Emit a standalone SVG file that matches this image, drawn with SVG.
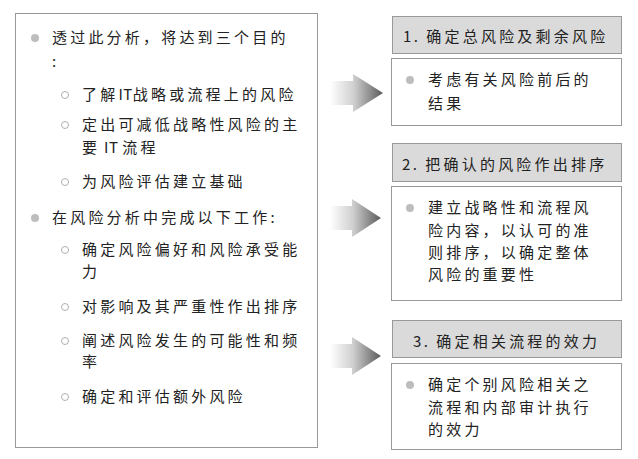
<svg xmlns="http://www.w3.org/2000/svg" width="638" height="459" viewBox="0 0 638 459">
<defs>
<linearGradient id="ag" x1="0" y1="0" x2="1" y2="0">
<stop offset="0" stop-color="#ffffff"/>
<stop offset="0.45" stop-color="#cfcfcf"/>
<stop offset="1" stop-color="#5a5a5a"/>
</linearGradient>
<style>
text{font-family:"Noto Sans CJK SC","Noto Sans",sans-serif;font-size:15px;fill:#222;letter-spacing:3.2px}
.lat{letter-spacing:0.5px}
.hl{letter-spacing:2.5px}
.box{fill:#fff;stroke:#999;stroke-width:1}
.hdr{fill:#dadada;stroke:#999;stroke-width:1}
.b1{fill:#bdbdbd}
.b2{fill:none;stroke:#b0b0b0;stroke-width:1}
.arr{fill:url(#ag)}
</style>
</defs>
<rect width="638" height="459" fill="#fff"/>
<g id="left">
<rect class="box" x="15.5" y="13.5" width="302" height="434"/>
<circle class="b1" cx="35" cy="38" r="4"/>
<text x="52" y="43">透过此分析，将达到三个目的</text>
<text x="52" y="67">:</text>
<circle class="b2" cx="65" cy="95" r="3.5"/>
<text x="82" y="100">了解<tspan class="lat">IT</tspan>战略或流程上的风险</text>
<circle class="b2" cx="65" cy="125" r="3.5"/>
<text x="82" y="130">定出可减低战略性风险的主</text>
<text x="82" y="153">要<tspan class="lat"> IT </tspan>流程</text>
<circle class="b2" cx="65" cy="182" r="3.5"/>
<text x="82" y="187">为风险评估建立基础</text>
<circle class="b1" cx="35" cy="218" r="4"/>
<text x="52" y="223">在风险分析中完成以下工作:</text>
<circle class="b2" cx="65" cy="250" r="3.5"/>
<text x="82" y="255">确定风险偏好和风险承受能</text>
<text x="82" y="277">力</text>
<circle class="b2" cx="65" cy="307" r="3.5"/>
<text x="82" y="312">对影响及其严重性作出排序</text>
<circle class="b2" cx="65" cy="341" r="3.5"/>
<text x="82" y="346">阐述风险发生的可能性和频</text>
<text x="82" y="367">率</text>
<circle class="b2" cx="65" cy="397" r="3.5"/>
<text x="82" y="402">确定和评估额外风险</text>
</g>
<g id="connectors">
<path class="arr" d="M330,81 H353 V74 L383,93 L353,112 V105 H330 Z"/>
<path class="arr" d="M330,206 H352 V199 L381,218 L352,237 V230 H330 Z"/>
<path class="arr" d="M330,344 H352 V337 L381,356 L352,375 V368 H330 Z"/>
</g>
<g id="step1">
<rect class="hdr" x="392.5" y="16.5" width="229" height="37"/>
<text x="403" y="42"><tspan class="hl">1. </tspan>确定总风险及剩余风险</text>
<rect class="box" x="391.5" y="58.5" width="230" height="67"/>
<circle class="b1" cx="410" cy="80" r="4"/>
<text x="428" y="85">考虑有关风险前后的</text>
<text x="428" y="109">结果</text>
</g>
<g id="step2">
<rect class="hdr" x="392.5" y="143.5" width="229" height="38"/>
<text x="402" y="170"><tspan class="hl">2. </tspan>把确认的风险作出排序</text>
<rect class="box" x="391.5" y="186.5" width="230" height="114"/>
<circle class="b1" cx="410" cy="208" r="4"/>
<text x="428" y="213">建立战略性和流程风</text>
<text x="428" y="236">险内容，以认可的准</text>
<text x="428" y="258">则排序，以确定整体</text>
<text x="428" y="280">风险的重要性</text>
</g>
<g id="step3">
<rect class="hdr" x="392.5" y="320.5" width="229" height="37"/>
<text x="413" y="347"><tspan class="hl">3. </tspan>确定相关流程的效力</text>
<rect class="box" x="391.5" y="363.5" width="230" height="86"/>
<circle class="b1" cx="410" cy="385" r="4"/>
<text x="428" y="390">确定个别风险相关之</text>
<text x="428" y="413">流程和内部审计执行</text>
<text x="428" y="435">的效力</text>
</g>
</svg>
